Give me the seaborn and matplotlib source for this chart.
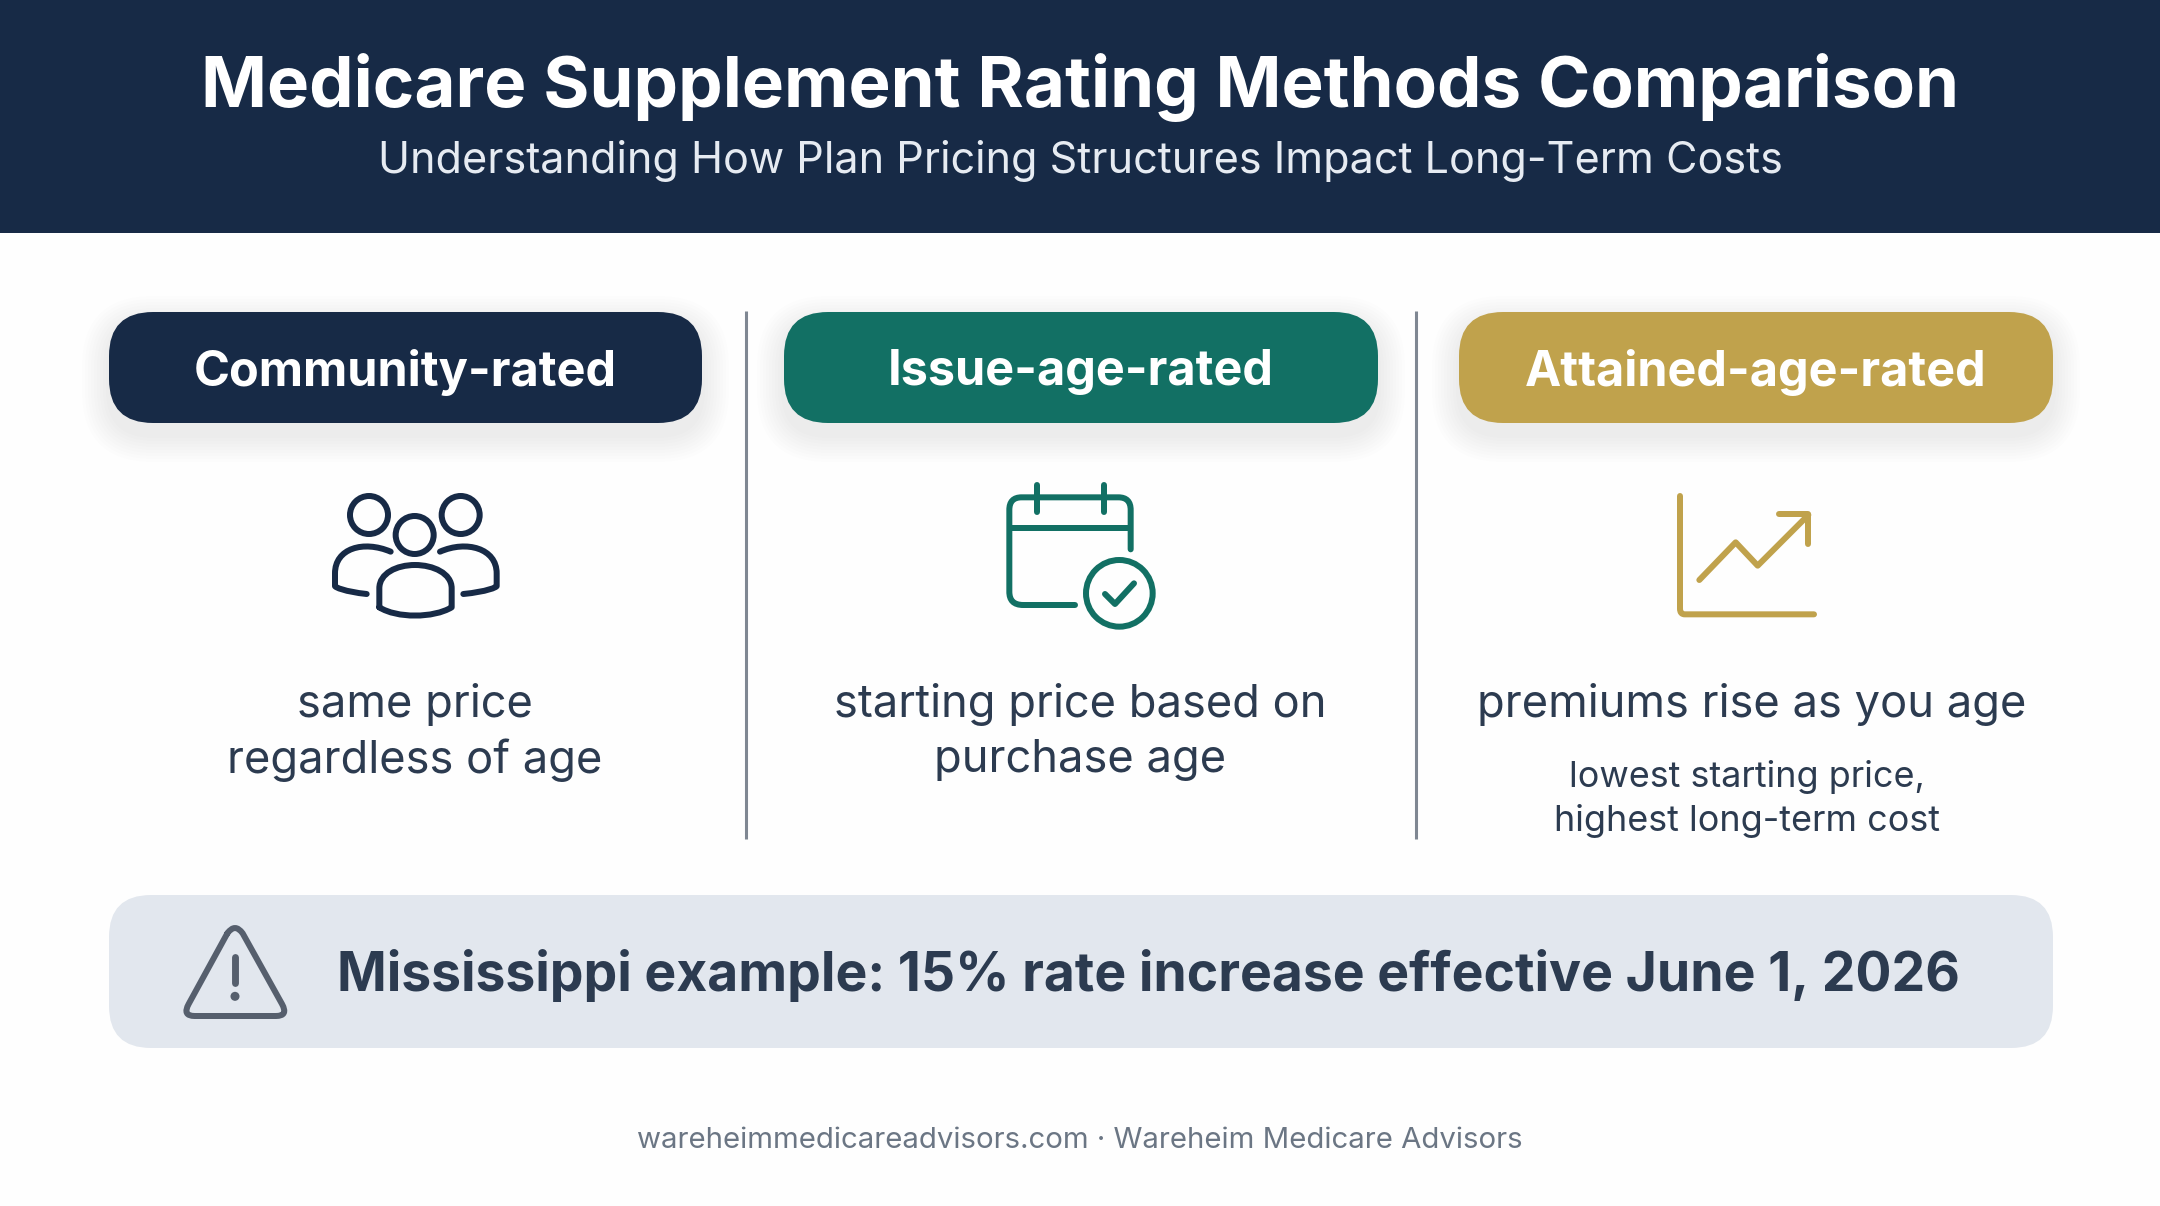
import seaborn as sns
from matplotlib import pyplot as plt
from matplotlib.patches import FancyBboxPatch, Circle, PathPatch, Rectangle
from matplotlib.path import Path

title = 'Medicare Supplement Rating Methods Comparison'
subtitle = 'Understanding How Plan Pricing Structures Impact Long-Term Costs'
pill_labels = ['Community-rated', 'Issue-age-rated', 'Attained-age-rated']
pill_colors = ['#172a46', '#127064', '#c0a24c']
col_text = [['same price', 'regardless of age'],
            ['starting price based on', 'purchase age'],
            ['premiums rise as you age']]
small_text = ['lowest starting price,', 'highest long-term cost']
note = 'Mississippi example: 15% rate increase effective June 1, 2026'
footer = 'wareheimmedicareadvisors.com · Wareheim Medicare Advisors'

sns.set_theme(style='white')
plt.rcParams['font.family'] = ['Inter', 'DejaVu Sans']

INK = '#2c3b50'
LW = 6 * 0.72  # 6 px stroke in points

fig = plt.figure(figsize=(21.6, 12.06), dpi=100, facecolor='#fefefe')
ax = fig.add_axes([0, 0, 1, 1])
ax.set_xlim(0, 2160)
ax.set_ylim(1206, 0)
ax.axis('off')


def rounded(x0, y0, x1, y1, r, color, alpha=1.0, z=2):
    ax.add_patch(FancyBboxPatch((x0, y0), x1 - x0, y1 - y0,
                                boxstyle='round,pad=0,rounding_size=%g' % r,
                                fc=color, ec='none', alpha=alpha, zorder=z))


def stroke(verts, codes, color, lw=LW, x0=0, y0=0):
    pts = [(x0 + x / 3, y0 + y / 3) for x, y in verts]
    ax.add_patch(PathPatch(Path(pts, codes), fc='none', ec=color, lw=lw,
                           capstyle='round', joinstyle='round', zorder=4))


def line(pts, color, lw=LW, x0=0, y0=0):
    codes = [Path.MOVETO] + [Path.LINETO] * (len(pts) - 1)
    stroke(pts, codes, color, lw, x0, y0)


def ring(cx, cy, r, color, lw=LW, x0=0, y0=0):
    ax.add_patch(Circle((x0 + cx / 3, y0 + cy / 3), r / 3, fc='none', ec=color,
                        lw=lw, zorder=4))


# header
ax.add_patch(Rectangle((0, 0), 2160, 233, fc='#172a46', ec='none', zorder=1))
ax.text(1080, 87, title, color='white', fontsize=51, fontweight='bold',
        ha='center', va='center', zorder=5)
ax.text(1080, 161, subtitle, color='#e6ebf2', fontsize=31.05,
        ha='center', va='center', zorder=5)

# pills with a soft shadow
pill_x = [(109, 702), (784, 1378), (1459, 2053)]
for (x0, x1), label, c in zip(pill_x, pill_labels, pill_colors):
    for grow in range(27, 0, -3):
        rounded(x0 - grow, 311 + 12 - grow, x1 + grow, 423 + 12 + grow, 44 + grow,
                '#1b2a3c', alpha=0.008, z=1.5)
    rounded(x0, 312, x1, 423, 44, c)
    ax.text((x0 + x1) / 2, 372, label, color='white', fontsize=35,
            fontweight='bold', ha='center', va='center', zorder=5)

# dividers
for x in [746, 1415.5]:
    ax.plot([x, x], [311, 839], color='#7f8792', lw=2.2, zorder=2,
            solid_capstyle='butt')

# column text
for cx, lines in zip([414.5, 1080, 1752], col_text):
    for i, s in enumerate(lines):
        ax.text(cx, 705 + i * 55, s, color=INK, fontsize=32.6, ha='center',
                va='center', zorder=5)
for i, s in enumerate(small_text):
    ax.text(1747, 777 + i * 44, s, color=INK, fontsize=25.9, ha='center',
            va='center', zorder=5)

# people icon
navy = pill_colors[0]
px, py = 300, 460
ring(207, 165, 57, navy, x0=px, y0=py)
ring(482, 165, 57, navy, x0=px, y0=py)
ring(344, 225, 57, navy, x0=px, y0=py)
M, L, C = Path.MOVETO, Path.LINETO, Path.CURVE4
Q = Path.CURVE3
stroke([(272, 275), (190, 240), (105, 265), (105, 340), (105, 378),
        (105, 382), (135, 395), (200, 402)],
       [M, C, C, C, L, C, C, C], navy, x0=px, y0=py)
stroke([(420, 275), (500, 240), (590, 265), (590, 340), (590, 378),
        (590, 382), (560, 395), (490, 402)],
       [M, C, C, C, L, C, C, C], navy, x0=px, y0=py)
stroke([(238, 442), (238, 385), (238, 340), (290, 315), (345, 315),
        (400, 315), (455, 340), (455, 385), (455, 442),
        (400, 475), (290, 475), (238, 442)],
       [M, L, C, C, C, C, C, C, L, C, C, C], navy, x0=px, y0=py)

# calendar icon
teal = pill_colors[1]
px, py = 980, 460
stroke([(285, 435), (130, 435), (100, 435), (88, 420), (88, 395), (88, 150),
        (88, 125), (100, 112), (125, 112), (415, 112), (440, 112), (452, 125),
        (452, 150), (452, 268)],
       [M, L, C, C, C, L, C, C, C, L, C, C, C, L], teal, x0=px, y0=py)
line([(95, 205), (445, 205)], teal, x0=px, y0=py)
line([(170, 75), (170, 155)], teal, x0=px, y0=py)
line([(372, 75), (372, 155)], teal, x0=px, y0=py)
ring(418, 400, 100, teal, x0=px, y0=py)
line([(375, 402), (405, 432), (462, 370)], teal, x0=px, y0=py)

# rising chart icon
gold = pill_colors[2]
px, py = 1640, 470
stroke([(120, 78), (120, 415), (120, 428), (125, 433), (135, 433), (522, 433)],
       [M, L, C, C, C, L], gold, x0=px, y0=py)
line([(178, 330), (287, 217), (353, 287), (505, 135)], gold, x0=px, y0=py)
line([(418, 132), (505, 132), (505, 222)], gold, x0=px, y0=py)

# note band
rounded(109, 895, 2053, 1048, 42, '#e2e7ee')
grey = '#565f6d'
px, py = 90, 880
stroke([(412, 160), (435, 128), (458, 160), (576, 372), (596, 408), (558, 408),
        (314, 408), (276, 408), (296, 372), (412, 160)],
       [M, Q, Q, L, Q, Q, L, Q, Q, L], grey, x0=px, y0=py)
line([(435, 230), (435, 310)], grey, lw=LW * 1.15, x0=px, y0=py)
ax.add_patch(Circle((px + 435 / 3, py + 349 / 3), 4.5, fc=grey, ec='none', zorder=4))
ax.text(337, 976, note, color=INK, fontsize=38.5, fontweight='bold', ha='left',
        va='center', zorder=5)

# footer
ax.text(1080, 1141, footer, color='#6b7684', fontsize=21.15, ha='center',
        va='center', zorder=5)

fig.savefig('out.png', dpi=100, facecolor=fig.get_facecolor())
